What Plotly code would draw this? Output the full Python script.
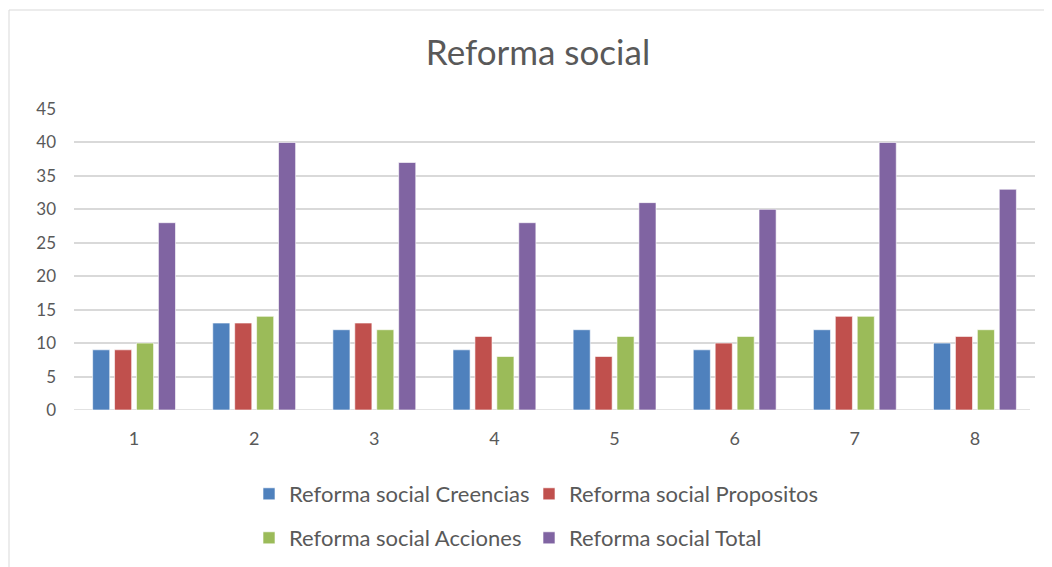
import plotly.graph_objects as go

categories = ["1", "2", "3", "4", "5", "6", "7", "8"]
creencias = [9, 13, 12, 9, 12, 9, 12, 10]
propositos = [9, 13, 13, 11, 8, 10, 14, 11]
acciones = [10, 14, 12, 8, 11, 11, 14, 12]
total = [28, 40, 37, 28, 31, 30, 40, 33]

series_names = ["Reforma social Creencias", "Reforma social Propositos",
                "Reforma social Acciones", "Reforma social Total"]
colors = ["#4f81bd", "#c0504d", "#9bbb59", "#8064a2"]
values = [creencias, propositos, acciones, total]
legend_ids = ["legend", "legend2", "legend3", "legend4"]

# page is offset by the 8px body margin
OFF = 8
W, H = 1052 - OFF, 567 - OFF
L, R, T, B = 74 - OFF, 17, 109 - OFF, 157
pw = W - L - R
ph = H - T - B

def px_x(p):
    return (p - OFF - L) / pw

def px_y(p):
    return (H - B - (p - OFF)) / ph

fig = go.Figure()
for name, vals, col, lg in zip(series_names, values, colors, legend_ids):
    fig.add_trace(go.Bar(x=categories, y=vals, name=name, legend=lg,
                         marker=dict(color=col, line=dict(color="rgba(255,255,255,0.6)", width=1))))

font_family = "Lato, 'Open Sans', sans-serif"
leg_common = dict(orientation="h", xanchor="left", yanchor="middle", itemwidth=30,
                  font=dict(size=22, color="#595959"), bgcolor="rgba(0,0,0,0)")

col1_x, col2_x = 249, 529
row1_y, row2_y = 494, 538

fig.update_layout(
    width=W, height=H,
    margin=dict(l=L, r=R, t=T, b=B, autoexpand=False),
    paper_bgcolor="white", plot_bgcolor="white",
    barmode="group", bargap=0.27, bargroupgap=0.22,
    title=dict(text="Reforma social", x=(538 - OFF) / W, xanchor="center", y=1 - (53 - OFF) / H, yanchor="middle",
               font=dict(family=font_family, size=35, color="#595959")),
    font=dict(family=font_family, size=18, color="#595959"),
    xaxis=dict(type="category", showgrid=False, showline=False, ticks="", ticklabelstandoff=16,
               tickfont=dict(size=18, color="#595959")),
    yaxis=dict(range=[0, 45], dtick=5, showgrid=True, gridcolor="#d9d9d9", gridwidth=1.5,
               zeroline=False, showline=False, ticks="", ticklabelstandoff=17,
               tickfont=dict(size=17, color="#595959")),
    legend=dict(x=px_x(col1_x), y=px_y(row1_y), **leg_common),
    legend2=dict(x=px_x(col2_x), y=px_y(row1_y), **leg_common),
    legend3=dict(x=px_x(col1_x), y=px_y(row2_y), **leg_common),
    legend4=dict(x=px_x(col2_x), y=px_y(row2_y), **leg_common),
    showlegend=True,
)

fig.add_shape(type="line", xref="paper", yref="y", x0=0, x1=1 - 5 / pw, y0=0, y1=0,
              line=dict(color="#d9d9d9", width=1.5), layer="below")
fig.add_shape(type="rect", xref="paper", yref="paper",
              x0=px_x(OFF + 1), x1=px_x(1051), y0=px_y(580), y1=px_y(10),
              line=dict(color="#d9d9d9", width=1), layer="below")

fig.write_html("out.html")
